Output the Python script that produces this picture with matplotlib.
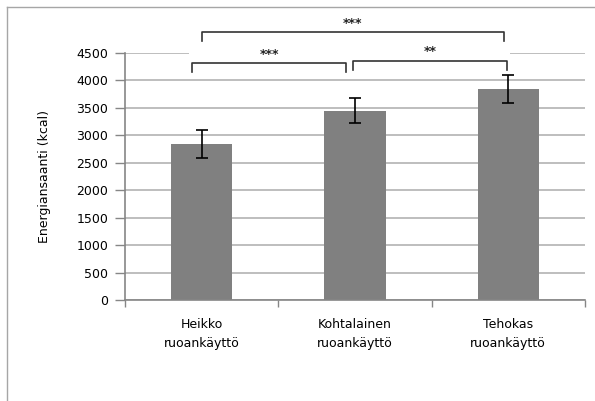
import matplotlib.pyplot as plt
from matplotlib.lines import Line2D
from matplotlib.patches import Rectangle

# data
groups = ["Heikko\nruoankäyttö", "Kohtalainen\nruoankäyttö", "Tehokas\nruoankäyttö"]
energy = [2840, 3450, 3840]
energy_err = [260, 220, 260]

# significance brackets: (left x, right x, bar height, label)
brackets = [
    (-0.06, 0.94, 4310, "***"),
    (0.99, 1.99, 4350, "**"),
    (0.0, 1.97, 4875, "***"),
]

plt.rcParams["font.family"] = "DejaVu Sans"

fig = plt.figure(figsize=(5.95, 4.01), dpi=100)
ax = fig.add_axes([0.210, 0.252, 0.773, 0.616])

x = range(len(groups))
ax.bar(x, energy, width=0.4, color="#808080", zorder=2)
ax.errorbar(x, energy, yerr=energy_err, fmt="none", ecolor="black",
            elinewidth=1.2, capsize=4, capthick=1.2, zorder=3)

ax.set_xlim(-0.5, 2.5)
ax.set_ylim(0, 4500)
ax.set_yticks(range(0, 4501, 500))
ax.grid(axis="y", color="#b3b3b3", linewidth=1.2, zorder=0)
ax.set_axisbelow(True)

ax.set_xticks(list(x))
ax.set_xticklabels(groups, fontsize=9, linespacing=1.6)
ax.set_xticks([-0.5, 0.5, 1.5, 2.5], minor=True)
ax.tick_params(axis="x", which="major", length=0, pad=13)
ax.tick_params(axis="x", which="minor", length=5, color="#868686", width=1)
ax.tick_params(axis="y", length=7, color="#868686", width=1, labelsize=9, pad=5)

for side in ["top", "right"]:
    ax.spines[side].set_visible(False)
for side in ["left", "bottom"]:
    ax.spines[side].set_color("#868686")
    ax.spines[side].set_linewidth(1.2)

ax.set_ylabel("Energiansaanti (kcal)", fontsize=9, labelpad=18)

# white band behind the brackets hides the top gridline
ax.add_patch(Rectangle((-0.08, 4420), 2.09, 160, facecolor="white",
                       edgecolor="none", zorder=1, clip_on=False))

for x0, x1, y, label in brackets:
    ax.plot([x0, x0, x1, x1], [y - 160, y, y, y - 160], color="#333333",
            linewidth=1.2, clip_on=False, zorder=4)
    ax.text((x0 + x1) / 2, y + 50, label, ha="center", va="bottom",
            fontsize=9, fontweight="bold", color="#222222")

# chart area border
fig.add_artist(Line2D([0.0118, 1.0], [0.9825, 0.9825], color="#a6a6a6", linewidth=1))
fig.add_artist(Line2D([0.0118, 0.0118], [0.0, 0.9825], color="#a6a6a6", linewidth=1))

fig.savefig("out.png", dpi=100)
